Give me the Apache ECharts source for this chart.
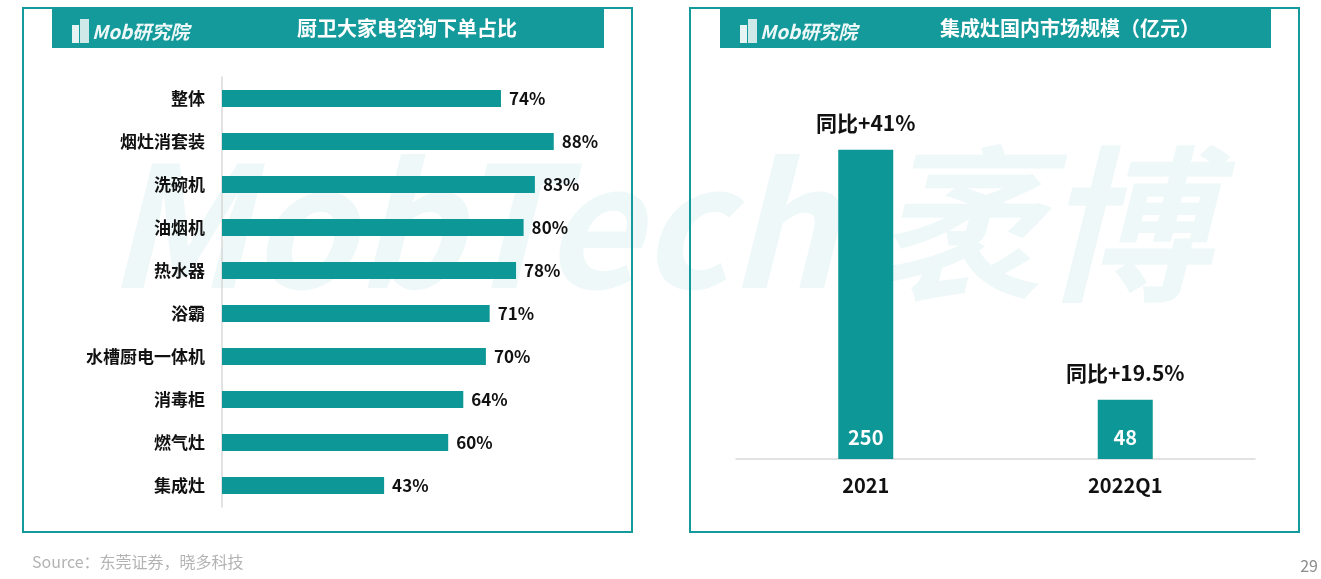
<!DOCTYPE html>
<html>
<head>
<meta charset="utf-8">
<script src="https://cdn.jsdelivr.net/npm/echarts@6/dist/echarts.min.js"></script>
<style>
  html, body { margin: 0; padding: 0; background: #fff; }
  #main { width: 1321px; height: 579px; }
</style>
</head>
<body>
<div id="main"></div>
<script>
// left chart: share of kitchen/bath appliance inquiries turned into orders
const leftCategories = ['整体', '烟灶消套装', '洗碗机', '油烟机', '热水器', '浴霸', '水槽厨电一体机', '消毒柜', '燃气灶', '集成灶']
const leftValues = [74, 88, 83, 80, 78, 71, 70, 64, 60, 43]

// right chart: integrated stove domestic market size (100m CNY)
const rightCategories = ['2021', '2022Q1']
const rightValues = [250, 48]
const rightYoy = ['同比+41%', '同比+19.5%']

const teal = '#0e9797'
const headTeal = '#149a9b'
const font = '"Noto Sans CJK SC", "Noto Sans", sans-serif'

const chart = echarts.init(document.getElementById('main'), null, { renderer: 'canvas' })

// little "Mob研究院" logo drawn in header bars
const logo = (x) => ([
  { type: 'rect', z: 5, shape: { x: x, y: 25, width: 7, height: 18 }, style: { fill: '#e6f4f4' } },
  { type: 'rect', z: 5, shape: { x: x + 8, y: 19, width: 9, height: 24 }, style: { fill: '#cfe9e9' } },
  { type: 'text', z: 5, x: x + 20, y: 32, style: { text: 'Mob研究院', fill: '#eef8f8', font: 'italic bold 19px ' + font, verticalAlign: 'middle' } }
])

chart.setOption({
  animation: false,
  graphic: [
    // watermark
    { type: 'text', z: -10, x: 658, y: 224, style: { text: 'MobTech 袤博', fill: 'rgba(20,154,155,0.07)', font: 'italic bold 168px ' + font, align: 'center', verticalAlign: 'middle' } },
    // panels
    { type: 'rect', z: 1, shape: { x: 23, y: 8, width: 609, height: 524 }, style: { fill: 'none', stroke: headTeal, lineWidth: 2 } },
    { type: 'rect', z: 1, shape: { x: 690, y: 8, width: 609, height: 524 }, style: { fill: 'none', stroke: headTeal, lineWidth: 2 } },
    { type: 'rect', z: 3, shape: { x: 52, y: 8, width: 552, height: 40 }, style: { fill: headTeal } },
    { type: 'rect', z: 3, shape: { x: 720, y: 8, width: 551, height: 40 }, style: { fill: headTeal } },
    ...logo(72),
    ...logo(740),
    { type: 'text', z: 5, x: 407, y: 28, style: { text: '厨卫大家电咨询下单占比', fill: '#fff', font: 'bold 20px ' + font, align: 'center', verticalAlign: 'middle' } },
    { type: 'text', z: 5, x: 1070, y: 28, style: { text: '集成灶国内市场规模（亿元）', fill: '#fff', font: 'bold 20px ' + font, align: 'center', verticalAlign: 'middle' } },
    // footer
    { type: 'text', x: 32, y: 562, style: { text: 'Source：东莞证券，晓多科技', fill: '#b3b3b3', font: '16px ' + font, verticalAlign: 'middle' } },
    { type: 'text', x: 1318, y: 566, style: { text: '29', fill: '#8c8c8c', font: '16px ' + font, align: 'right', verticalAlign: 'middle' } }
  ],
  grid: [
    { left: 222, top: 77, width: 377, height: 430 },
    { left: 736, top: 88, width: 519, height: 371 }
  ],
  xAxis: [
    { gridIndex: 0, type: 'value', min: 0, max: 100, show: false },
    {
      gridIndex: 1, type: 'category', data: rightCategories,
      axisLine: { lineStyle: { color: '#d9d9d9', width: 1.5 } },
      axisTick: { show: false },
      axisLabel: { margin: 16, color: '#111', fontSize: 20, fontWeight: 'bold', fontFamily: font }
    }
  ],
  yAxis: [
    {
      gridIndex: 0, type: 'category', data: leftCategories, inverse: true,
      axisLine: { lineStyle: { color: '#d9d9d9', width: 1.5 } },
      axisTick: { show: false },
      axisLabel: { margin: 17, color: '#111', fontSize: 17, fontWeight: 'bold', fontFamily: font }
    },
    { gridIndex: 1, type: 'value', min: 0, max: 300, show: false }
  ],
  series: [
    {
      type: 'bar', xAxisIndex: 0, yAxisIndex: 0, z: 4,
      data: leftValues, barWidth: 17,
      itemStyle: { color: teal },
      label: { show: true, position: 'right', distance: 8, formatter: '{c}%', color: '#111', fontSize: 17, fontWeight: 'bold', fontFamily: font }
    },
    {
      type: 'bar', xAxisIndex: 1, yAxisIndex: 1, z: 4,
      data: rightValues, barWidth: 55,
      itemStyle: { color: teal },
      label: { show: true, position: 'insideBottom', distance: 12, color: '#fff', fontSize: 20, fontWeight: 'bold', fontFamily: font }
    },
    {
      type: 'bar', xAxisIndex: 1, yAxisIndex: 1, z: 4,
      data: rightValues, barWidth: 55, barGap: '-100%',
      itemStyle: { color: 'rgba(0,0,0,0)' },
      label: {
        show: true, position: 'top', distance: 16,
        formatter: (p) => rightYoy[p.dataIndex],
        color: '#111', fontSize: 21, fontWeight: 'bold', fontFamily: font
      }
    }
  ]
})
</script>
</body>
</html>
